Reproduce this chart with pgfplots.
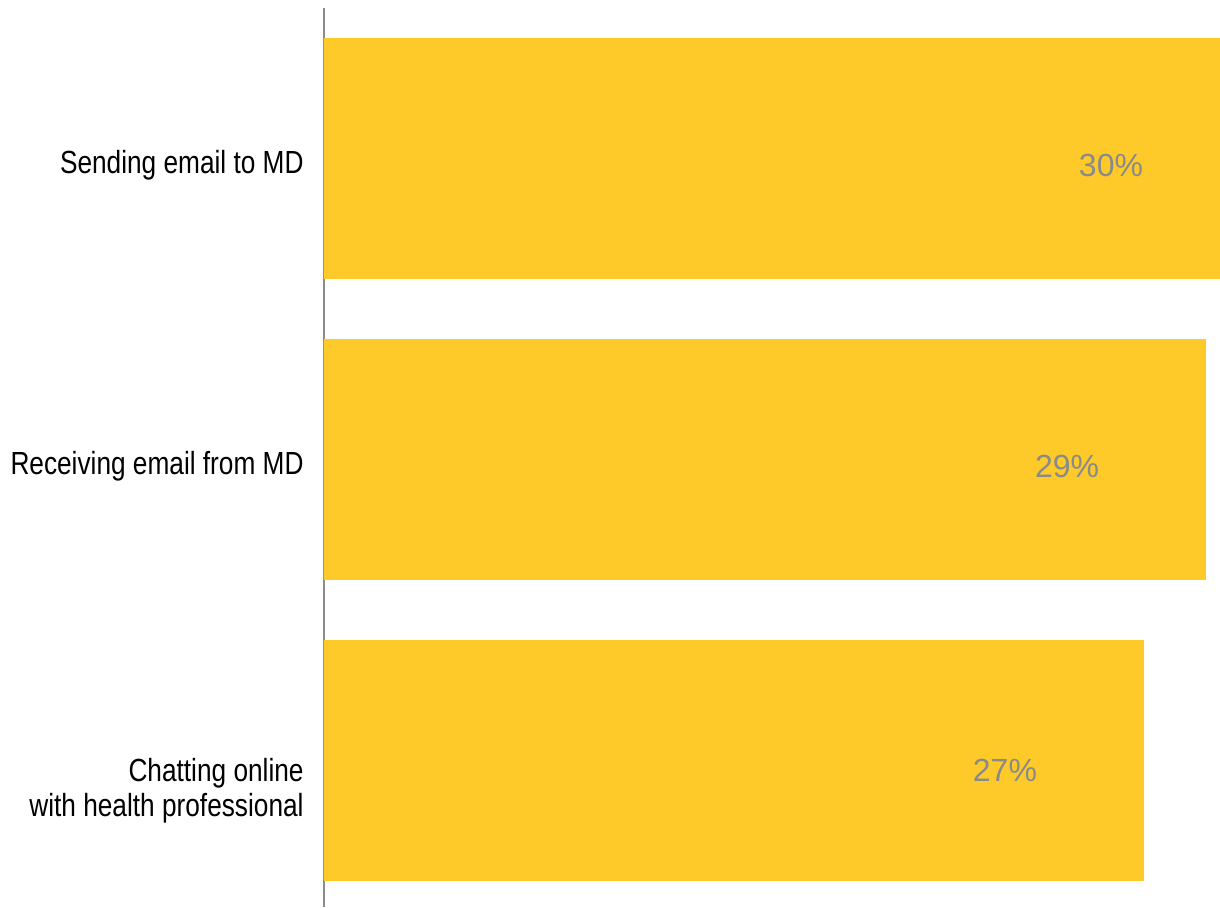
\documentclass[border=0pt]{standalone}
\usepackage{fontspec}
\setmainfont{Liberation Sans}
\newfontfamily\condensed[FakeStretch=0.82]{Liberation Sans}
\usepackage{pgfplots}
\pgfplotsset{compat=1.18}
\definecolor{baryellow}{HTML}{FDCA2A}
\definecolor{labelgray}{HTML}{8A8A8A}
\definecolor{axisgray}{HTML}{8C8C8C}

\begin{document}
\begin{tikzpicture}
\begin{axis}[
    scale only axis,
    width=448pt, height=449.5pt,
    xbar, bar width=0.8,
    xmin=0, xmax=30,
    ymin=-0.4867, ymax=2.5,
    axis x line=none,
    axis y line*=left,
    axis line style={axisgray, line width=1pt, -},
    xtick=\empty, ytick=\empty,
    clip=false,
    ]
    % bar lengths (labels are rounded)
    \addplot[fill=baryellow, draw=none, bar shift=0pt] coordinates {
        (27.45,0) (29.53,1) (30,2)};

    \node[labelgray, font=\fontsize{16}{19}\selectfont] at (axis cs:26.35,2) [yshift=-3.5pt] {30\%};
    \node[labelgray, font=\fontsize{16}{19}\selectfont] at (axis cs:24.88,1) [yshift=-3.5pt] {29\%};
    \node[labelgray, font=\fontsize{16}{19}\selectfont] at (axis cs:22.80,0) [yshift=-5pt] {27\%};

    \node[anchor=east, inner sep=0pt, font=\condensed\fontsize{16}{17.5}\selectfont, xshift=-10pt, yshift=-3.5pt]
        at (axis cs:0,2) {Sending email to MD};
    \node[anchor=east, inner sep=0pt, font=\condensed\fontsize{16}{17.5}\selectfont, xshift=-10pt, yshift=-3.5pt]
        at (axis cs:0,1) {Receiving email from MD};
    \node[anchor=east, inner sep=0pt, align=right, font=\condensed\fontsize{16}{17.5}\selectfont, xshift=-10pt, yshift=-15pt]
        at (axis cs:0,0) {Chatting online\\with health professional};

    \path (rel axis cs:-0.3616,0) rectangle (rel axis cs:1,1.0089);
\end{axis}
\end{tikzpicture}
\end{document}
